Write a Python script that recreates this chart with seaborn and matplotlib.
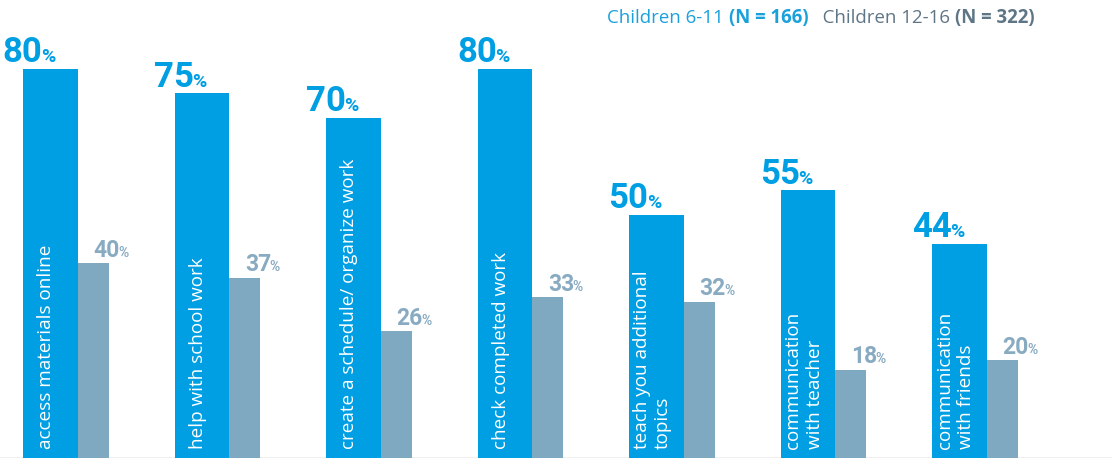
import matplotlib
matplotlib.use("Agg")
import matplotlib.pyplot as plt
import seaborn as sns
import pandas as pd
import numpy as np

# Survey activities and shares of children using them (percent)
activities = [
    "access materials online",
    "help with school work",
    "create a schedule/ organize work",
    "check completed work",
    "teach you additional\ntopics",
    "communication\nwith teacher",
    "communication\nwith friends",
]
children_6_11 = [80, 75, 70, 80, 50, 55, 44]
children_12_16 = [40, 37, 26, 33, 32, 18, 20]
legend_labels = ["Children 6-11 ", "(N = 166)", "   Children 12-16 ", "(N = 322)"]

BLUE = "#009FE3"
GREY = "#7FA9C0"
GREY_LABEL = "#88ABC2"
LEGEND_BLUE = "#1AA1DC"
LEGEND_GREY = "#5E7586"

sns.set_theme(style="white")
plt.rcParams["font.family"] = ["Open Sans", "DejaVu Sans"]

W, H = 1112, 460
fig = plt.figure(figsize=(W / 100, H / 100), dpi=100)
ax = fig.add_axes([0, 1.5 / H, 1, 1 - 1.5 / H])

group_pos = np.arange(len(activities), dtype=float)
grey_shift = 0.2838
blue_width = 0.363
grey_width = 0.2046

df_young = pd.DataFrame({"pos": group_pos, "share": children_6_11})
df_old = pd.DataFrame({"pos": group_pos + grey_shift, "share": children_12_16})

sns.barplot(data=df_young, x="pos", y="share", native_scale=True, orient="x",
            width=blue_width, color=BLUE, saturation=1, errorbar=None, ax=ax,
            linewidth=0)
sns.barplot(data=df_old, x="pos", y="share", native_scale=True, orient="x",
            width=grey_width, color=GREY, saturation=1, errorbar=None, ax=ax,
            linewidth=0)

px_per_unit = 151.5
xmin = -50.5 / px_per_unit
ax.set_xlim(xmin, xmin + W / px_per_unit)
ax.set_ylim(0, 94.4)
ax.axis("off")
ax.axhline(0, color="#EDEDED", lw=1.2, zorder=0)

num_font = ["Roboto", "DejaVu Sans"]

for i, (label, a, b) in enumerate(zip(activities, children_6_11, children_12_16)):
    x_blue = group_pos[i]
    x_grey = group_pos[i] + grey_shift
    blue_left = x_blue - blue_width / 2
    grey_left = x_grey - grey_width / 2

    # activity name written up the blue bar
    ax.annotate(label, xy=(x_blue, 0), xytext=(-3, 6.5), textcoords="offset points",
                rotation=90, ha="center", va="bottom", multialignment="left",
                color="white", fontsize=13.6, linespacing=1.25)

    # value for children 6-11
    num = ax.annotate(f"{a}", xy=(blue_left, a), xytext=(14, 5.5),
                      textcoords="offset points", ha="right", va="baseline",
                      color=BLUE, fontsize=25, fontweight="bold", family=num_font)
    ax.annotate("%", xy=(1, a), xycoords=(num, "data"), xytext=(-1.2, 5.5),
                textcoords="offset points", ha="left", va="baseline",
                color=BLUE, fontsize=14, fontweight="bold", family=num_font)

    # value for children 12-16
    num2 = ax.annotate(f"{b}", xy=(grey_left, b), xytext=(11, 5.5),
                       textcoords="offset points", ha="left", va="baseline",
                       color=GREY_LABEL, fontsize=16.5, fontweight="bold",
                       family=num_font)
    ax.annotate("%", xy=(1, b), xycoords=(num2, "data"), xytext=(-1, 5.5),
                textcoords="offset points", ha="left", va="baseline",
                color=GREY_LABEL, fontsize=10, fontweight="bold", family=num_font)

# two-colour legend line at the top right, pieces chained left to right
legend_colors = [LEGEND_BLUE, LEGEND_BLUE, LEGEND_GREY, LEGEND_GREY]
legend_weights = ["normal", "bold", "normal", "bold"]
legend_y = H - 23
prev = ax.annotate(legend_labels[0], xy=(607, legend_y), xycoords="figure pixels",
                   ha="left", va="baseline", color=legend_colors[0],
                   fontsize=13.4, fontweight=legend_weights[0])
for txt, col, wt in zip(legend_labels[1:], legend_colors[1:], legend_weights[1:]):
    prev = ax.annotate(txt, xy=(1, legend_y), xycoords=(prev, "figure pixels"),
                       ha="left", va="baseline", color=col,
                       fontsize=13.4, fontweight=wt)

fig.savefig("out.png", dpi=100)
